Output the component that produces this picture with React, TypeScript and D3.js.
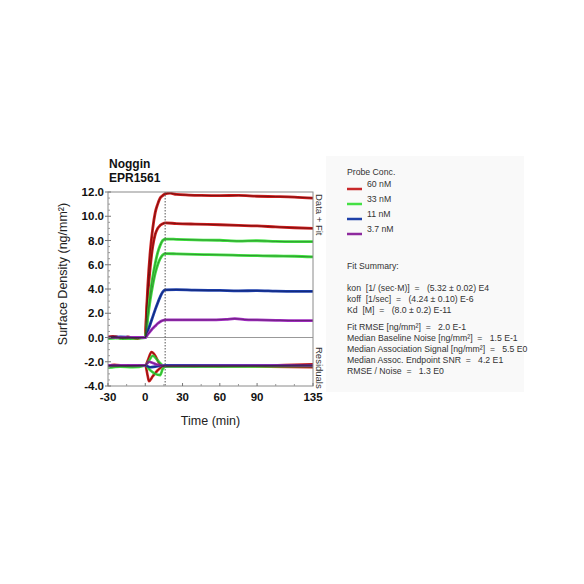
import React from 'react';
import * as d3 from 'd3';

type Pt = [number, number];

// association / dissociation data
const red60a: Pt[] = [[-30, 0.05], [-26, 0.1], [-22, 0.0], [-18, -0.05], [-14, 0.05], [-10, -0.05], [-6, -0.1], [-3, 0.0], [0, 0.0], [1, 2.2], [2, 4.2], [4, 7.1], [6, 9.0], [8, 10.3], [10, 11.0], [12, 11.5], [14, 11.7], [16, 11.85], [20, 11.9], [25, 11.8], [35, 11.75], [45, 11.72], [60, 11.7], [75, 11.72], [90, 11.65], [105, 11.62], [120, 11.58], [135, 11.5]];
const red60b: Pt[] = [[-30, 0.0], [-24, 0.05], [-18, -0.1], [-12, -0.05], [-6, 0.0], [0, 0.0], [1, 1.8], [2, 3.4], [4, 5.8], [6, 7.5], [8, 8.5], [10, 9.0], [12, 9.25], [14, 9.38], [16, 9.45], [25, 9.4], [40, 9.35], [60, 9.3], [75, 9.25], [90, 9.2], [105, 9.12], [120, 9.05], [135, 9.0]];
const green33a: Pt[] = [[-30, -0.05], [-24, 0.0], [-18, -0.1], [-12, 0.0], [-6, -0.05], [0, 0.0], [2, 1.9], [4, 3.6], [6, 5.0], [8, 6.1], [10, 7.0], [12, 7.6], [14, 8.0], [16, 8.12], [25, 8.1], [40, 8.05], [60, 8.02], [75, 7.95], [90, 7.98], [105, 7.92], [120, 7.9], [135, 7.9]];
const green33b: Pt[] = [[-30, -0.1], [-24, -0.05], [-18, 0.0], [-12, -0.1], [-6, 0.0], [0, 0.0], [2, 1.6], [4, 3.1], [6, 4.3], [8, 5.3], [10, 6.0], [12, 6.5], [14, 6.8], [16, 6.92], [25, 6.9], [40, 6.85], [60, 6.82], [75, 6.78], [90, 6.75], [105, 6.72], [120, 6.7], [135, 6.65]];
const blue11: Pt[] = [[-30, 0.0], [-20, 0.05], [-10, 0.0], [0, 0.0], [2, 0.55], [4, 1.1], [6, 1.7], [8, 2.3], [10, 2.85], [12, 3.35], [14, 3.75], [16, 3.92], [25, 3.95], [40, 3.9], [60, 3.88], [75, 3.85], [90, 3.86], [105, 3.82], [120, 3.8], [135, 3.8]];
const purple37: Pt[] = [[-30, 0.0], [-20, 0.0], [-10, 0.0], [0, 0.0], [2, 0.25], [4, 0.5], [6, 0.75], [8, 0.95], [10, 1.15], [12, 1.3], [14, 1.4], [16, 1.45], [30, 1.45], [50, 1.45], [65, 1.5], [72, 1.55], [80, 1.48], [90, 1.45], [105, 1.42], [120, 1.4], [135, 1.4]];

// residual traces (offset to the -2.3 band)
const resRedA: Pt[] = [[-30, -2.35], [-25, -2.25], [-20, -2.3], [-15, -2.4], [-10, -2.35], [-5, -2.3], [0, -2.3], [2, -1.9], [5, -1.2], [8, -1.5], [11, -2.1], [14, -2.4], [16, -2.4], [30, -2.35], [60, -2.4], [90, -2.35], [120, -2.25], [135, -2.2]];
const resRedB: Pt[] = [[-30, -2.3], [-22, -2.4], [-14, -2.3], [-6, -2.35], [0, -2.3], [2, -3.2], [3, -3.6], [6, -3.2], [10, -2.7], [14, -2.4], [16, -2.35], [40, -2.4], [70, -2.35], [100, -2.4], [135, -2.45]];
const resGreenA: Pt[] = [[-30, -2.5], [-20, -2.4], [-10, -2.45], [0, -2.3], [3, -1.9], [6, -1.5], [10, -1.9], [14, -2.3], [16, -2.35], [40, -2.3], [70, -2.35], [135, -2.3]];
const resGreenB: Pt[] = [[-30, -2.4], [-20, -2.35], [-10, -2.4], [0, -2.3], [4, -2.7], [8, -3.0], [12, -3.1], [14, -2.6], [16, -2.4], [40, -2.4], [135, -2.35]];
const resBlue: Pt[] = [[-30, -2.3], [0, -2.3], [4, -2.45], [8, -2.4], [12, -2.35], [16, -2.3], [135, -2.3]];
const resPurple: Pt[] = [[-30, -2.3], [0, -2.3], [3, -2.0], [6, -2.1], [10, -2.25], [16, -2.35], [135, -2.3]];

const endOfAssociation = 16;

const traces = [
  { data: red60a, res: resRedA, color: '#cc1c1c', fit: '#4a0a0a' },
  { data: red60b, res: resRedB, color: '#cc1c1c', fit: '#4a0a0a' },
  { data: green33a, res: resGreenA, color: '#3ee03e', fit: '#2a6a2a' },
  { data: green33b, res: resGreenB, color: '#3ee03e', fit: '#2a6a2a' },
  { data: blue11, res: resBlue, color: '#1d3fae', fit: '#0c1a55' },
  { data: purple37, res: resPurple, color: '#a02cc0', fit: '#4a1a50' },
];

const legendLabels = ['60 nM', '33 nM', '11 nM', '3.7 nM'];
const legendColors = ['#c8282a', '#44e044', '#1e40a8', '#8e2a9e'];

const yTicks = [12, 10, 8, 6, 4, 2, 0, -2, -4];
const xTicks = [-30, 0, 30, 60, 90, 135];

const fitLines = [
  'kon  [1/ (sec·M)]  =   (5.32 ± 0.02) E4',
  'koff  [1/sec]  =   (4.24 ± 0.10) E-6',
  'Kd  [M]  =   (8.0 ± 0.2) E-11',
];
const statLines = [
  'Fit RMSE [ng/mm²]  =   2.0 E-1',
  'Median Baseline Noise [ng/mm²]  =   1.5 E-1',
  'Median Association Signal [ng/mm²]  =   5.5 E0',
  'Median Assoc. Endpoint SNR  =   4.2 E1',
  'RMSE / Noise  =   1.3 E0',
];

const W = 584;
const H = 584;
const left = 108, right = 313, top = 192, bottom = 386;

export default function App() {
  const x = d3.scaleLinear().domain([-30, 135]).range([left, right]);
  const y = d3.scaleLinear().domain([-4, 12]).range([bottom, top]);
  const line = d3.line<Pt>().x(d => x(d[0])).y(d => y(d[1])).curve(d3.curveMonotoneX);

  const minorY = d3.range(-4, 12.01, 0.5).filter(v => !yTicks.includes(v));
  const minorX = d3.range(-15, 135, 15).filter(v => !xTicks.includes(v));
  const font = 'Arial, "Liberation Sans", sans-serif';
  const fs = 8.7;

  return (
    <svg width={W} height={H} style={{ position: 'absolute', left: 0, top: 0, background: '#fff' }} fontFamily={font}>
      <rect x={326} y={156} width={198} height={236} fill="#f9f9f9" />

      <text x={109} y={168} fontSize={12} fontWeight="bold" fill="#111">Noggin</text>
      <text x={109} y={182} fontSize={12} fontWeight="bold" fill="#111">EPR1561</text>

      <defs>
        <clipPath id="plotClip">
          <rect x={left} y={top} width={right - left} height={bottom - top} />
        </clipPath>
      </defs>

      {/* zero line */}
      <line x1={left} x2={right} y1={y(0)} y2={y(0)} stroke="#999" strokeWidth={1} />

      <g clipPath="url(#plotClip)">
        {traces.map((t, i) => (
          <g key={i}>
            <path d={line(t.data) ?? ''} fill="none" stroke={t.color} strokeWidth={2.8} />
            <path d={line(t.res) ?? ''} fill="none" stroke={t.color} strokeWidth={2.6} />
          </g>
        ))}
        {traces.map((t, i) => (
          <g key={'f' + i}>
            <path d={line(t.data) ?? ''} fill="none" stroke={t.fit} strokeWidth={0.8} opacity={0.8} />
            <path d={line(t.res) ?? ''} fill="none" stroke={t.fit} strokeWidth={0.8} opacity={0.6} />
          </g>
        ))}
      </g>

      {/* end of association marker */}
      <line x1={x(endOfAssociation)} x2={x(endOfAssociation)} y1={top} y2={bottom} stroke="#555" strokeWidth={1} strokeDasharray="1.5,1.5" />

      {/* frame */}
      <rect x={left} y={top} width={right - left} height={bottom - top} fill="none" stroke="#8a8a8a" strokeWidth={1} />

      {/* y ticks */}
      {minorY.map(v => (
        <line key={'my' + v} x1={left} x2={left + 2} y1={y(v)} y2={y(v)} stroke="#999" />
      ))}
      {yTicks.map(v => (
        <g key={'y' + v}>
          <line x1={left - 3} x2={left + 3} y1={y(v)} y2={y(v)} stroke="#777" />
          <text x={left - 4} y={y(v) + 4} fontSize={11.5} fontWeight="bold" textAnchor="end" fill="#111">{v.toFixed(1)}</text>
        </g>
      ))}

      {/* x ticks */}
      {minorX.map(v => (
        <line key={'mx' + v} x1={x(v)} x2={x(v)} y1={bottom} y2={bottom - 2} stroke="#999" />
      ))}
      {xTicks.map(v => (
        <g key={'x' + v}>
          <line x1={x(v)} x2={x(v)} y1={bottom} y2={bottom - 3} stroke="#777" />
          <text x={x(v)} y={bottom + 15} fontSize={11.5} fontWeight="bold" textAnchor="middle" fill="#111">{v}</text>
        </g>
      ))}

      <text transform="translate(67,274) rotate(-90)" fontSize={12.5} textAnchor="middle" fill="#222">
        Surface Density (ng/mm²)
      </text>
      <text x={(left + right) / 2} y={425} fontSize={12.5} textAnchor="middle" fill="#222">Time (min)</text>

      <text transform={`translate(316,${top + 2}) rotate(90)`} fontSize={9.5} fill="#333">Data + Fit</text>
      <text transform="translate(316,347) rotate(90)" fontSize={9.5} fill="#333">Residuals</text>

      {/* legend */}
      <text x={347} y={175} fontSize={fs} fill="#333">Probe Conc.</text>
      {legendLabels.map((l, i) => (
        <g key={l}>
          <line x1={347} x2={362} y1={189 + i * 15} y2={189 + i * 15} stroke={legendColors[i]} strokeWidth={2.5} />
          <text x={367} y={187 + i * 15} fontSize={fs} fill="#333">{l}</text>
        </g>
      ))}

      <text x={347} y={269} fontSize={fs} fill="#333">Fit Summary:</text>
      {fitLines.map((s, i) => (
        <text key={s} x={347} y={291 + i * 11} fontSize={fs} fill="#333" style={{ whiteSpace: 'pre' }}>{s}</text>
      ))}
      {statLines.map((s, i) => (
        <text key={s} x={347} y={330 + i * 11} fontSize={fs} fill="#333" style={{ whiteSpace: 'pre' }}>{s}</text>
      ))}
    </svg>
  );
}
